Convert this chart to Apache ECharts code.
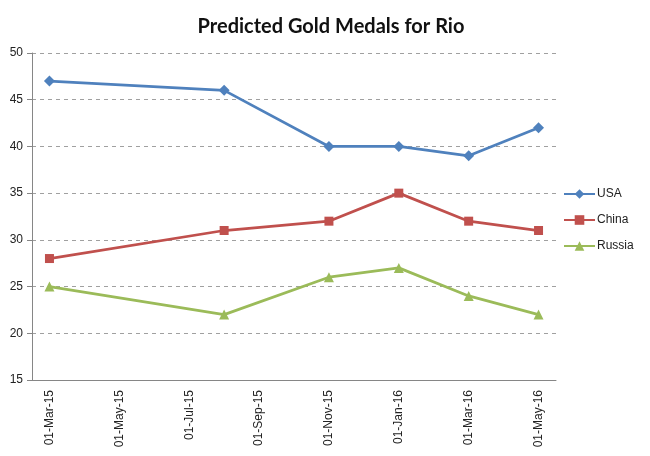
<!DOCTYPE html>
<html><head><meta charset="utf-8">
<script src="https://cdn.jsdelivr.net/npm/echarts@6/dist/echarts.min.js"></script>
<style>html,body{margin:0;padding:0;background:#fff}#c{width:650px;height:456px}</style>
</head><body><div id="c"></div>
<script>
var months = ['01-Mar-15','01-Apr-15','01-May-15','01-Jun-15','01-Jul-15','01-Aug-15','01-Sep-15','01-Oct-15','01-Nov-15','01-Dec-15','01-Jan-16','01-Feb-16','01-Mar-16','01-Apr-16','01-May-16'];
var pointDates = ['01-Mar-15','01-Aug-15','01-Nov-15','01-Jan-16','01-Mar-16','01-May-16'];
var usa = [47, 46, 40, 40, 39, 42];
var china = [28, 31, 32, 35, 32, 31];
var russia = [25, 22, 26, 27, 24, 22];
var yTicks = [15, 20, 25, 30, 35, 40, 45, 50];

function pairs(vals){ return pointDates.map(function(d,i){ return [d, vals[i]]; }); }
var chart = echarts.init(document.getElementById('c'));
var font = '"Liberation Sans", Arial, sans-serif';
chart.setOption({
  animation: false,
  backgroundColor: '#fff',
  title: { text: 'Predicted Gold Medals for Rio', left: 326, textAlign: 'center', top: 12,
    textStyle: { fontFamily: 'Lato, "Open Sans", sans-serif', fontWeight: 'bold', fontSize: 20, color: '#111' } },
  legend: { orient: 'vertical', left: 558, top: 183, itemGap: 14, itemWidth: 31, itemHeight: 12,
    textStyle: { fontFamily: font, fontSize: 12, color: '#222', padding: [0,0,0,-3] },
    data: ['USA','China','Russia'] },
  grid: { left: 32, right: 94, top: 53, bottom: 76, containLabel: false },
  xAxis: { type: 'category', data: months, boundaryGap: true,
    axisLine: { lineStyle: { color: '#868686', width: 1 } },
    axisTick: { interval: 1, length: 5, lineStyle: { color: '#868686' } },
    axisLabel: { interval: 1, rotate: 90, margin: 10, fontFamily: font, fontSize: 12, color: '#222' },
    splitLine: { show: false } },
  yAxis: { type: 'value', min: yTicks[0], max: yTicks[yTicks.length-1], interval: 5,
    axisLine: { show: true, lineStyle: { color: '#868686', width: 1 } },
    axisTick: { show: true, length: 5, lineStyle: { color: '#868686' } },
    axisLabel: { fontFamily: font, fontSize: 12, color: '#222', margin: 9 },
    splitLine: { lineStyle: { color: '#a0a0a0', type: [4,4], width: 1 } } },
  series: [
    { name: 'USA', type: 'line', data: pairs(usa), symbol: 'diamond', symbolSize: 11,
      itemStyle: { color: '#4f81bd' }, lineStyle: { color: '#4f81bd', width: 2.75 } },
    { name: 'China', type: 'line', data: pairs(china), symbol: 'rect', symbolSize: 9,
      itemStyle: { color: '#c0504d' }, lineStyle: { color: '#c0504d', width: 2.75 } },
    { name: 'Russia', type: 'line', data: pairs(russia), symbol: 'triangle', symbolSize: 10,
      itemStyle: { color: '#9bbb59' }, lineStyle: { color: '#9bbb59', width: 2.75 } }
  ]
});
</script></body></html>
